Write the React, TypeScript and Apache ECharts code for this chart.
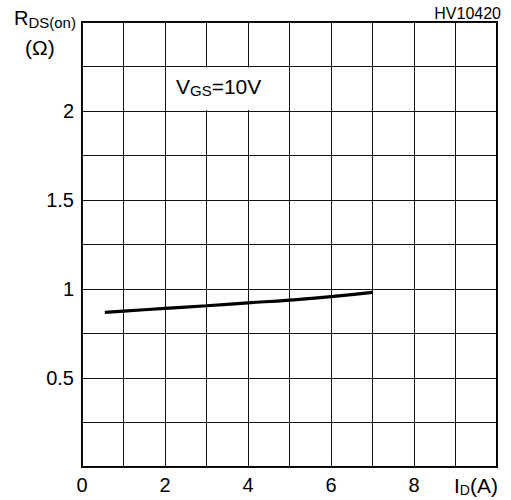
import React, { useEffect, useRef } from "react";
import * as echarts from "echarts";

const currentA = [0.55, 1, 2, 3, 4, 5, 6, 7];
const rdsOn = [0.869, 0.876, 0.891, 0.906, 0.922, 0.938, 0.957, 0.981];
const xTickLabels = ["0", "2", "4", "6", "8"];
const yTickLabels = ["0.5", "1", "1.5", "2"];
const boxX = [2, 5];
const boxY = [2, 2.25];

const FONT = "Liberation Sans";

export default function App() {
  const ref = useRef<HTMLDivElement>(null);
  useEffect(() => {
    if (!ref.current) return;
    const chart = echarts.init(ref.current, undefined, { renderer: "svg" });
    const fmt = (list: string[]) => (v: number) => {
      const s = String(Math.round(v * 100) / 100);
      return list.includes(s) ? s : "";
    };
    chart.setOption({
      animation: false,
      grid: {
        left: 82,
        right: 14,
        top: 22,
        bottom: 33,
        show: true,
        borderColor: "#000",
        borderWidth: 2,
        backgroundColor: "transparent",
      },
      xAxis: {
        type: "value",
        min: 0,
        max: 10,
        interval: 1,
        axisLine: { show: false },
        axisTick: { show: false },
        splitLine: { show: true, lineStyle: { color: "#111", width: 1 } },
        axisLabel: {
          formatter: fmt(xTickLabels),
          color: "#000",
          fontFamily: FONT,
          fontSize: 20,
          margin: 8,
        },
      },
      yAxis: {
        type: "value",
        min: 0,
        max: 2.5,
        interval: 0.25,
        axisLine: { show: false },
        axisTick: { show: false },
        splitLine: { show: true, lineStyle: { color: "#111", width: 1 } },
        axisLabel: {
          formatter: fmt(yTickLabels),
          color: "#000",
          fontFamily: FONT,
          fontSize: 20,
          margin: 8,
        },
      },
      series: [
        {
          type: "line",
          data: currentA.map((x, i) => [x, rdsOn[i]]),
          smooth: true,
          symbol: "none",
          lineStyle: { color: "#000", width: 3.2 },
          markArea: {
            silent: true,
            itemStyle: { color: "#fff" },
            data: [
              [
                { coord: [boxX[0] + 0.03, boxY[0] + 0.005] },
                { coord: [boxX[1] - 0.03, boxY[1] - 0.005] },
              ],
            ],
          },
        },
      ],
      graphic: [
        {
          type: "text",
          left: 176,
          top: 76,
          z: 100,
          style: {
            text: "{a|V}{b|GS}{a|=10V}",
            rich: {
              a: { fontFamily: FONT, fontSize: 21, fill: "#000" },
              b: { fontFamily: FONT, fontSize: 15, fill: "#000", padding: [8, 0, 0, 0] },
            },
          },
        },
        {
          type: "text",
          left: 14,
          top: 8,
          z: 100,
          style: {
            text: "{a|R}{b|DS(on)}",
            rich: {
              a: { fontFamily: FONT, fontSize: 20, fill: "#000" },
              b: { fontFamily: FONT, fontSize: 15, fill: "#000", padding: [8, 0, 0, 0] },
            },
          },
        },
        {
          type: "text",
          left: 25,
          top: 37,
          z: 100,
          style: { text: "(Ω)", fontFamily: FONT, fontSize: 21, fill: "#000" },
        },
        {
          type: "text",
          right: 10,
          top: 5,
          z: 100,
          style: { text: "HV10420", fontFamily: FONT, fontSize: 16, fill: "#000" },
        },
        {
          type: "text",
          left: 454,
          top: 475,
          z: 100,
          style: {
            text: "{a|I}{b|D}{a|(A)}",
            rich: {
              a: { fontFamily: FONT, fontSize: 21, fill: "#000" },
              b: { fontFamily: FONT, fontSize: 14, fill: "#000", padding: [8, 0, 0, 0] },
            },
          },
        },
      ],
    });
    return () => chart.dispose();
  }, []);
  return <div ref={ref} style={{ width: 511, height: 500, position: "absolute", left: 0, top: 0 }} />;
}
